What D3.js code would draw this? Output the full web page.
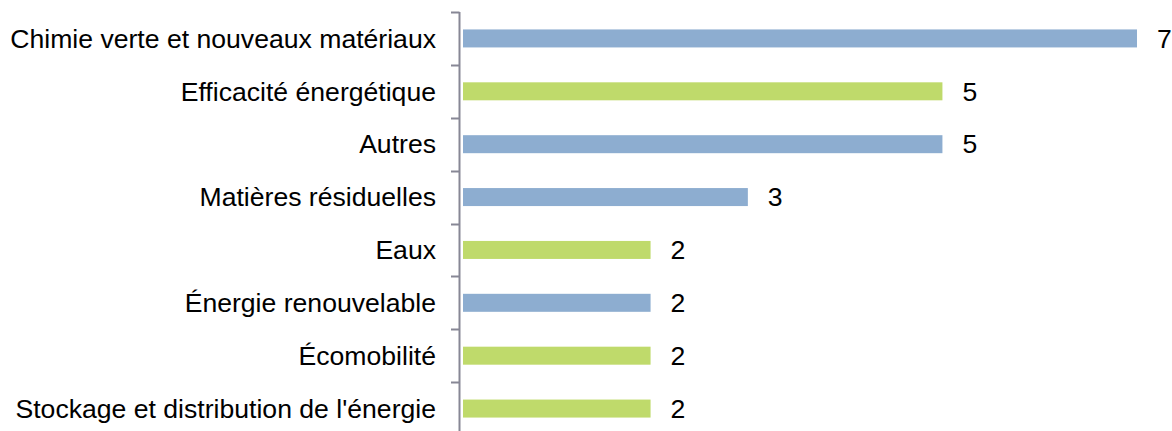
<!DOCTYPE html>
<html><head><meta charset="utf-8">
<script src="https://cdn.jsdelivr.net/npm/d3@7"></script>
<style>body{margin:0;background:#fff}svg{display:block}</style>
</head><body>
<script>
const categories = ["Chimie verte et nouveaux matériaux","Efficacité énergétique","Autres","Matières résiduelles","Eaux","Énergie renouvelable","Écomobilité","Stockage et distribution de l'énergie"];
const values = [7,5,5,3,2,2,2,2];
const groups = ["blue","green","blue","blue","green","blue","green","green"];
const colorMap = {blue:"#8dadd0", green:"#bfda6b"};

const W=1172,H=431;
const svg=d3.select("body").append("svg").attr("width",W).attr("height",H);
const axisX=459.5;
const x=d3.scaleLinear().domain([0,7]).range([456,1137]);
const band=d3.scaleBand().domain(categories).range([12,435]);
const font="Liberation Sans, Arial, sans-serif";

const g=svg.append("g");
g.append("line").attr("x1",axisX).attr("x2",axisX).attr("y1",12).attr("y2",H).attr("stroke","#878795").attr("stroke-width",2);
g.selectAll("line.tick").data(categories).enter().append("line")
 .attr("x1",451).attr("x2",axisX).attr("y1",d=>Math.round(band(d))+0.5).attr("y2",d=>Math.round(band(d))+0.5)
 .attr("stroke","#878795").attr("stroke-width",2);

svg.selectAll("rect.bar").data(categories).enter().append("rect")
 .attr("x",463).attr("y",(d,i)=>band(d)+band.bandwidth()/2-9)
 .attr("width",(d,i)=>x(values[i])-463).attr("height",18)
 .attr("fill",(d,i)=>colorMap[groups[i]]);

svg.selectAll("text.cat").data(categories).enter().append("text")
 .attr("x",436).attr("y",d=>band(d)+band.bandwidth()/2)
 .attr("dy","0.35em").attr("text-anchor","end")
 .attr("font-family",font).attr("font-size",26.6).attr("fill","#000")
 .text(d=>d);

svg.selectAll("text.val").data(categories).enter().append("text")
 .attr("x",(d,i)=>x(values[i])+20).attr("y",d=>band(d)+band.bandwidth()/2)
 .attr("dy","0.35em")
 .attr("font-family",font).attr("font-size",26.6).attr("fill","#000")
 .text((d,i)=>values[i]);
</script>
</body></html>
